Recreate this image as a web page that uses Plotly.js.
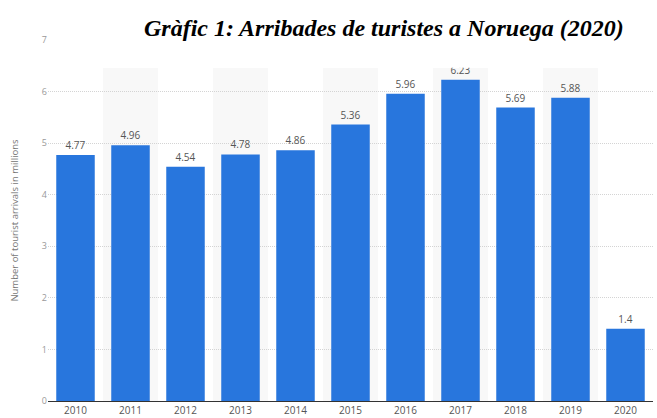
<!DOCTYPE html>
<html>
<head>
<meta charset="utf-8">
<script src="https://cdn.plot.ly/plotly-3.0.1.min.js"></script>
<style>html,body{margin:0;padding:0;background:#fff;}#chart{width:657px;height:418px;}</style>
</head>
<body>
<div id="chart"></div>
<script>
const years = ["2010","2011","2012","2013","2014","2015","2016","2017","2018","2019","2020"];
const arrivals = [4.77, 4.96, 4.54, 4.78, 4.86, 5.36, 5.96, 6.23, 5.69, 5.88, 1.4];
const arrivalLabels = ["4.77","4.96","4.54","4.78","4.86","5.36","5.96","6.23","5.69","5.88","1.4"];
const yTicks = [0,1,2,3,4,5,6,7];
const chartTitle = "Gràfic 1: Arribades de turistes a Noruega (2020)";
const yTitle = "Number of tourist arrivals in millions";

const shapes = [];
years.forEach((y, i) => {
  if (i % 2 === 1) {
    shapes.push({type:'rect', xref:'x', yref:'y', x0:i-0.5, x1:i+0.5, y0:0, y1:6.46,
      fillcolor:'#f8f8f8', line:{width:0}, layer:'below'});
  }
});
shapes.push({type:'rect', xref:'paper', yref:'y', x0:0, x1:1.01, y0:6.46, y1:7.6,
  fillcolor:'#ffffff', line:{width:0}, layer:'above'});

const trace = {
  type:'bar', x: years, y: arrivals, text: arrivalLabels,
  textposition:'outside', cliponaxis:false,
  textfont:{family:'Open Sans, sans-serif', size:10, color:'#555'},
  marker:{color:'#2876dd'}, hoverinfo:'none'
};

const layout = {
  width:657, height:418,
  margin:{l:48, r:4, t:40, b:17},
  paper_bgcolor:'#fff', plot_bgcolor:'rgba(0,0,0,0)',
  bargap:0.3,
  showlegend:false,
  xaxis:{type:'category', showgrid:false, showline:true, linecolor:'#333', linewidth:1,
    ticks:'', ticklabelstandoff:0,
    tickfont:{family:'Open Sans, sans-serif', size:10, color:'#555'}, fixedrange:true},
  yaxis:{range:[0,7], tickvals:yTicks, showgrid:true, gridcolor:'#d4d4d4', griddash:'1px,1px',
    zeroline:false, showline:false, ticks:'',
    tickfont:{family:'Open Sans, sans-serif', size:9, color:'#999'},
    title:{text:yTitle, font:{family:'Open Sans, sans-serif', size:9.5, color:'#777'}, standoff:21}},
  shapes: shapes,
  annotations:[{text:'<b><i>'+chartTitle+'</i></b>', xref:'paper', yref:'paper', x:0.556, y:1.0,
    yshift:-3, xanchor:'center', yanchor:'bottom', showarrow:false,
    font:{family:'Liberation Serif, Times New Roman, serif', size:24, color:'#000'}}]
};
Plotly.newPlot('chart', [trace], layout, {displayModeBar:false, staticPlot:true});
</script>
</body>
</html>
